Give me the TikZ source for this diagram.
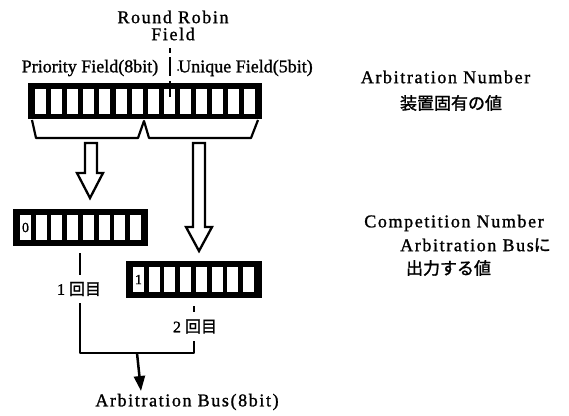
\documentclass[tikz,border=0pt]{standalone}
\usepackage{fontspec}
\setmainfont{Liberation Serif}[FakeBold=1.2]
\newfontfamily\spfont{Liberation Serif}[LetterSpace=9,FakeBold=1.2]
\newfontfamily\cjk{Noto Sans CJK JP}[FakeBold=1.5]
\usetikzlibrary{arrows.meta}
\tikzset{
  regbox/.style={fill=black, draw=none, inner sep=0pt},
  cellw/.style={fill=white},
  hollow/.style={draw=black, line width=2.3pt, fill=white, line join=miter},
  conn/.style={draw=black, line width=2.5pt},
  lbl/.style={inner sep=0pt, font=\fontsize{18}{20}\selectfont},
  splbl/.style={inner sep=0pt, font=\fontsize{18}{20}\selectfont\spfont},
  jlbl/.style={inner sep=0pt, font=\fontsize{17}{19}\selectfont\cjk},
  cntlbl/.style={inner sep=0pt, minimum height=28pt, font=\fontsize{16}{18}\selectfont},
  digit/.style={inner sep=0pt, font=\fontsize{14}{14}\selectfont}
}
\begin{document}
\begin{tikzpicture}[x=1pt,y=-1pt]
\useasboundingbox (0,0) rectangle (569,415);
% ---- texts at top
\node[splbl] (rr1) at (173,17) {Round Robin};
\node[splbl] (rr2) at (173,34) {Field};
\node[lbl] (prio) at (90,68) {Priority Field(8bit)};
\node[lbl] (uniq) at (245.5,68) {Unique Field(5bit)};
\fill (178,70) circle (1pt);
% ---- arbitration number register
\node[regbox, minimum width=234pt, minimum height=36pt] (arbreg) at (145,101) {};
\foreach \i in {0,...,13} \fill[cellw] ({35+\i*16.1},89) rectangle ++(11,25);
% round robin marker
\draw[line width=2pt] (170,48) -- (170,53) (170,57) -- (170,76) (170,81) -- (170,97);
% bracket under register
\draw[conn, line width=2.2pt, line join=round] (32,120) -- (36,138) -- (138,138) -- (144,121) -- (149,138) -- (251,138) -- (258,120);
% ---- hollow arrows
\draw[hollow] (85,143) -- (97,143) -- (97,173) -- (103,173) -- (90,198) -- (77,173) -- (85,173) -- cycle;
\draw[hollow] (193,143) -- (205,143) -- (205,227) -- (212,227) -- (199,251) -- (186,227) -- (193,227) -- cycle;
% ---- register 0
\node[regbox, minimum width=135pt, minimum height=37pt] (reg0) at (80.5,227.5) {};
\foreach \i in {0,...,7} \fill[cellw] ({20+\i*15.7},215) rectangle ++(11,25);
\node[digit] (d0) at (25.5,227.5) {0};
% ---- register 1
\node[regbox, minimum width=136pt, minimum height=37pt] (reg1) at (194,279.5) {};
\foreach \i in {0,...,7} \fill[cellw] ({133+\i*15.7},267) rectangle ++(11,25);
\node[digit] (d1) at (138.5,279.5) {1};
% ---- labels on the connectors
\node[cntlbl] (lab1) at (79,289) {1\hspace{4pt}{\cjk 回目}};
\node[cntlbl] (lab2) at (195,326.5) {2\hspace{4pt}{\cjk 回目}};
\coordinate (s0) at (80,253);
\coordinate (s1) at (194,306);
\coordinate (j1) at (80,353);
\coordinate (j2) at (194,353);
\coordinate (a0) at (137,353);
\coordinate (tip) at (141,391);
\draw[conn] (s0) -- (lab1.north -| s0);
\draw[conn] (s1) -- (lab2.north -| s1);
\draw[conn, line join=round] (lab1.south -| j1) -- (j1) -- (j2) -- (lab2.south -| j2);
\draw[conn, -{Triangle[length=15pt,width=11pt]}] (a0) -- (tip);
\node[splbl] (bus) at (187,402) {Arbitration Bus(8bit)};
% ---- right-hand texts
\node[splbl] (an) at (445.5,77) {Arbitration Number};
\node[jlbl] (anj) at (451,103) {装置固有の値};
\node[splbl] (cn) at (454,223) {Competition Number};
\node[splbl, anchor=west] (cn2) at (400,245) {Arbitration Bus{\cjk\fontsize{17}{19}\selectfont に}};
\node[jlbl] (cn3) at (448.5,268) {出力する値};
\end{tikzpicture}
\end{document}
